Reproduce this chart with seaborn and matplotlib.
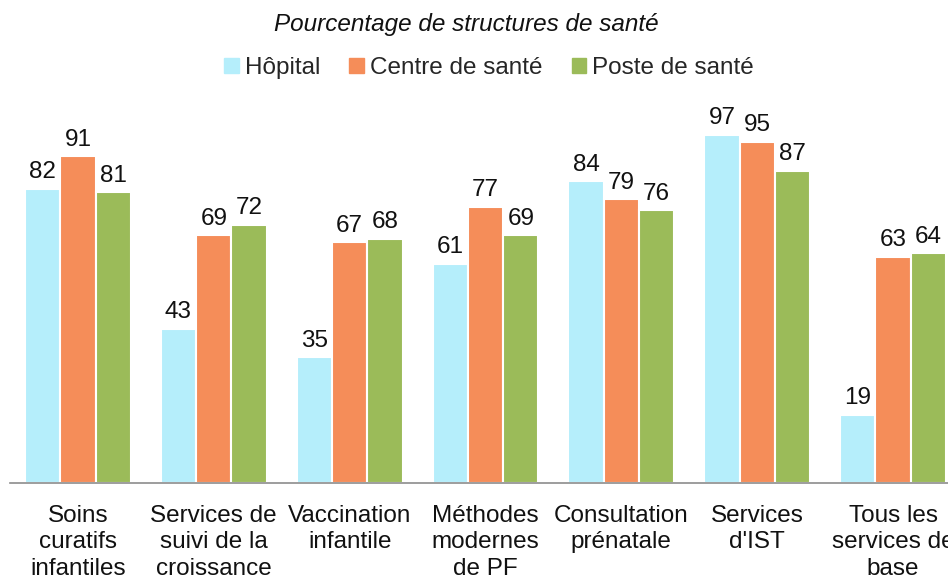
import pandas as pd
import seaborn as sns
import matplotlib.pyplot as plt

# data
categories = ['Soins\ncuratifs\ninfantiles', 'Services de\nsuivi de la\ncroissance',
              'Vaccination\ninfantile', 'Méthodes\nmodernes\nde PF',
              'Consultation\nprénatale', 'Services\nd\'IST', 'Tous les\nservices de\nbase']
series = ['Hôpital', 'Centre de santé', 'Poste de santé']
hopital = [82, 43, 35, 61, 84, 97, 19]
centre = [91, 69, 67, 77, 79, 95, 63]
poste = [81, 72, 68, 69, 76, 87, 64]
colors = ['#B5EEFB', '#F58D59', '#9BBB59']

rows = []
for name, vals in zip(series, [hopital, centre, poste]):
    for c, v in zip(categories, vals):
        rows.append({'cat': c, 'val': v, 'type': name})
data = pd.DataFrame(rows)

sns.set_style('white')
plt.rcParams['font.family'] = ['Liberation Sans', 'DejaVu Sans']
fs = 17.5

fig = plt.figure(figsize=(9.48, 5.75), dpi=100)
ax = fig.add_axes([10 / 948, 92 / 575, 951 / 948, 359 / 575])

sns.barplot(data=data, x='cat', y='val', hue='type', palette=colors, ax=ax,
            width=0.78, edgecolor='white', linewidth=1.5, saturation=1, legend=False)

for cont in ax.containers:
    ax.bar_label(cont, fmt='%d', padding=4, fontsize=fs, color='#111111')

ax.set_xlim(-0.5, 6.5)
ax.set_ylim(0, 100)
ax.set_xlabel('')
ax.set_ylabel('')
ax.set_yticks([])
for s in ['top', 'right', 'left']:
    ax.spines[s].set_visible(False)
ax.spines['bottom'].set_color('#8c8c8c')
ax.spines['bottom'].set_linewidth(1.2)
ax.tick_params(axis='x', length=0, pad=16, labelsize=fs, labelcolor='#111111')
for lab in ax.get_xticklabels():
    lab.set_linespacing(1.25)

handles = [plt.Rectangle((0, 0), 1, 1, color=c) for c in colors]
fig.legend(handles, series, loc='center', bbox_to_anchor=(489 / 948, 1 - 68 / 575),
           ncol=3, frameon=False, fontsize=fs, handlelength=0.6, handleheight=0.6,
           handletextpad=0.25, columnspacing=1.2)
fig.text(466 / 948, 1 - 25 / 575, 'Pourcentage de structures de santé', ha='center',
         va='center', fontsize=fs, style='italic', color='#111111')

fig.savefig('out.png', dpi=100)
